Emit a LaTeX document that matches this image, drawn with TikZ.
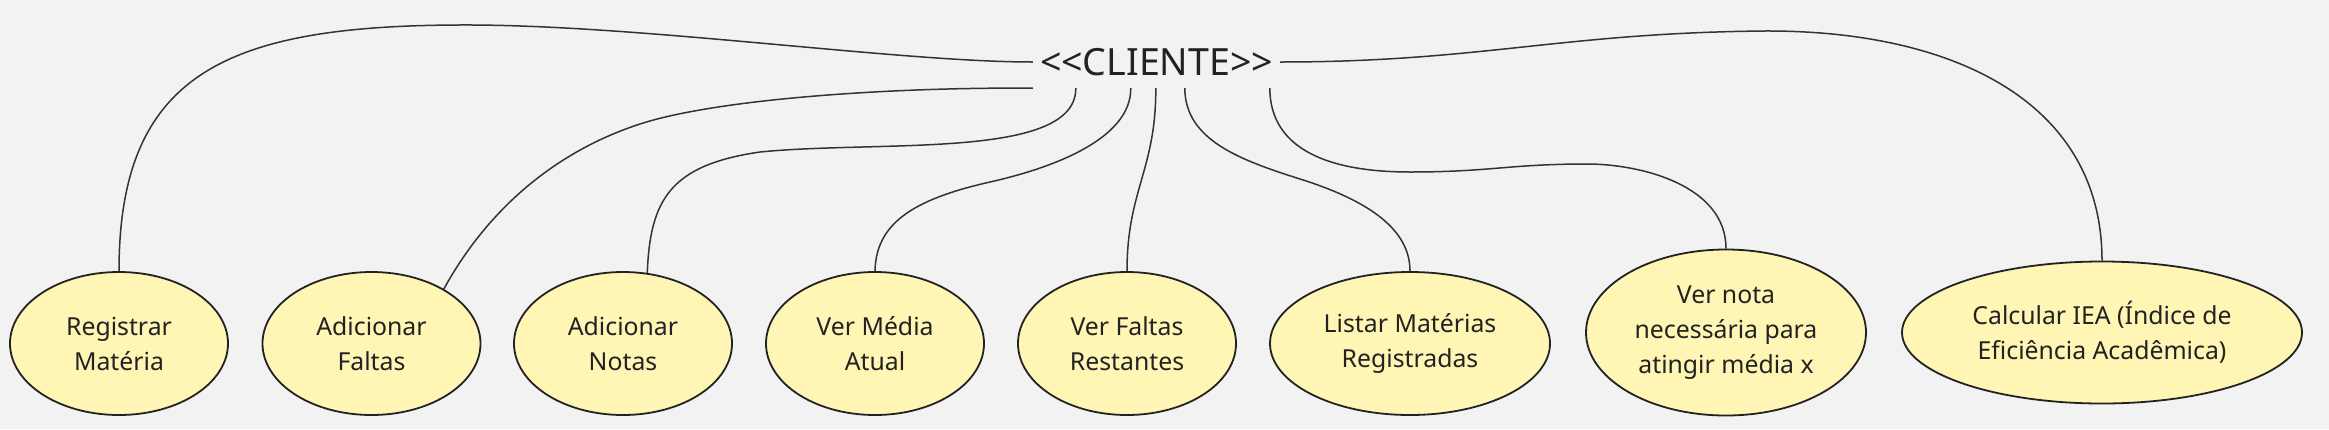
\documentclass[tikz,border=0pt]{standalone}
\usepackage{fontspec}
\setmainfont{Noto Sans}
\newfontfamily\titlefont{Noto Sans}
\usetikzlibrary{shapes.geometric}
\definecolor{bg}{HTML}{F2F2F2}
\definecolor{ufill}{HTML}{FFF5B4}
\definecolor{ustroke}{HTML}{222222}
\definecolor{edgecol}{HTML}{333333}
\definecolor{txt}{HTML}{222222}
\begin{document}
\begin{tikzpicture}[x=1pt,y=-1pt,
  usecase/.style={ellipse, draw=ustroke, fill=ufill, line width=1.8pt, inner sep=0pt,
    align=center, text=txt, font=\fontsize{24.8}{35}\selectfont},
  smallcase/.style={usecase, minimum width=218pt, minimum height=143pt},
  link/.style={draw=edgecol, line width=1.5pt},
  actor/.style={inner sep=0pt, minimum width=247pt, minimum height=52pt, text=txt,
    font=\titlefont\fontsize{37.5}{40}\selectfont}]
\fill[bg] (0,0) rectangle (2329,429);
\useasboundingbox (0,0) rectangle (2329,429);

\node[actor] (cli) at (1156.5,62) {<\kern0pt<CLIENTE>\kern0pt>};

\node[smallcase] (e1) at (119,343.5) {Registrar\\Matéria};
\node[smallcase] (e2) at (371.5,343.5) {Adicionar\\Faltas};
\node[smallcase] (e3) at (623,343.5) {Adicionar\\Notas};
\node[smallcase] (e4) at (875,343.5) {Ver Média\\Atual};
\node[smallcase] (e5) at (1127,343.5) {Ver Faltas\\Restantes};
\node[usecase, minimum width=280pt, minimum height=143pt] (e6) at (1410,343.5) {Listar Matérias\\Registradas};
\node[usecase, minimum width=280pt, minimum height=166pt] (e7) at (1726,332.5) {Ver nota\\necessária para\\atingir média x};
\node[usecase, minimum width=400pt, minimum height=142pt] (e8) at (2102,332.5) {Calcular IEA (Índice de\\Eficiência Acadêmica)};

\draw[link] (e1.north) .. controls (119,70) and (230,24) .. (473,25)
  .. controls (650,26) and (900,62) .. (cli.west);
\draw[link] (e2.37) .. controls (490,205) and (560,150) .. (640,124)
  .. controls (720,98) and (900,87) .. (cli.south west);
\draw[link] (e3.71) .. controls (650,200) and (670,165) .. (760,152)
  .. controls (880,140) and (1076,160) .. ([xshift=43pt]cli.south west);
\draw[link] (e4.north) .. controls (876,225) and (910,200) .. (990,182)
  .. controls (1050,168.5) and (1131,140) .. ([xshift=98pt]cli.south west);
\draw[link] (e5.north) .. controls (1127,190) and (1156,170) .. ([xshift=123pt]cli.south west);
\draw[link] (e6.north) .. controls (1410,230) and (1370,201) .. (1300,179)
  .. controls (1240,160) and (1185,140) .. ([xshift=152pt]cli.south west);
\draw[link] (e7.north) .. controls (1726,185) and (1640,164) .. (1587,164)
  .. controls (1510,164) and (1490,172) .. (1410,172)
  .. controls (1330,172) and (1270,150) .. ([xshift=237pt]cli.south west);
\draw[link] (e8.north) .. controls (2102,100) and (1950,30) .. (1764,31)
  .. controls (1560,33) and (1480,62) .. (cli.east);
\end{tikzpicture}
\end{document}
